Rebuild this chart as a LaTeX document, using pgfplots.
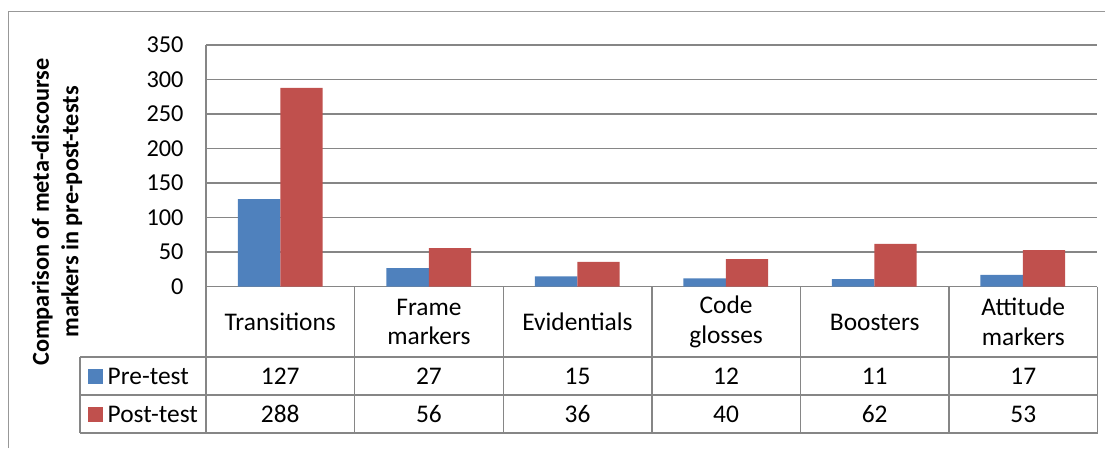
\documentclass[border=0pt]{standalone}
\usepackage{pgfplots}
\pgfplotsset{compat=1.18}
\usepackage{fontspec}
\setmainfont{Carlito}
\definecolor{preblue}{HTML}{4F81BD}
\definecolor{postred}{HTML}{C0504D}
\definecolor{gridgray}{HTML}{868686}
\newcommand{\fs}{\fontsize{24.3}{29.5}\selectfont}
\newcommand{\ft}{\fontsize{25.4}{29.5}\selectfont}
\begin{document}
\begin{tikzpicture}
\useasboundingbox (0pt,0pt) rectangle (1105pt,-448pt);
% outer chart border (left and top visible)
\draw[gridgray!85, line width=1.3pt] (8.5pt,-448pt) -- (8.5pt,-11.5pt) -- (1105pt,-11.5pt);
\begin{axis}[
  at={(206pt,-286.7pt)}, anchor=south west,
  scale only axis, width=891pt, height=241.7pt,
  xmin=-0.5, xmax=5.5, ymin=0, ymax=350,
  ytick={0,50,...,350},
  xtick=\empty,
  ymajorgrids,
  grid style={draw=gridgray, line width=1.4pt},
  axis line style={draw=gridgray, line width=1.4pt},
  axis x line*=bottom, axis y line*=left,
  major tick length=0pt,
  tick label style={font=\fs},
  /pgf/number format/assume math mode=true,
  yticklabel style={xshift=-19pt},
  ybar=0pt, bar width=0.285,
  clip=false,
]
\addplot[fill=preblue, draw=none] coordinates {(0,127) (1,27) (2,15) (3,12) (4,11) (5,17)};
\addplot[fill=postred, draw=none] coordinates {(0,288) (1,56) (2,36) (3,40) (4,62) (5,53)};
\end{axis}
\begin{scope}[x=1pt, y=1pt]
% data table lines
\begin{scope}[draw=gridgray, line width=1.4pt]
\draw (206,-286.7) -- (206,-433);
\draw (80,-357) -- (1097.6,-357);
\draw (80,-395) -- (1097.6,-395);
\draw (80,-433) -- (1097.6,-433);
\draw (80,-357) -- (80,-433);
\foreach \k in {1,...,5} {\draw ({206+148.6*\k},-286.7) -- ({206+148.6*\k},-433);}
\draw (1097.6,-286.7) -- (1097.6,-433);
\end{scope}
% category labels
\foreach \lab [count=\i from 0] in {Transitions,{Frame\\markers},Evidentials,{Code\\glosses},Boosters,{Attitude\\markers}} {
  \node[font=\ft, align=center, inner sep=0pt] at ({206+148.6*(\i+0.5)},-322) {\lab};
}
% table values
\foreach \v [count=\i from 0] in {127,27,15,12,11,17} {
  \node[font=\ft, inner sep=0pt] at ({206+148.6*(\i+0.5)},-376) {\v};
}
\foreach \v [count=\i from 0] in {288,56,36,40,62,53} {
  \node[font=\ft, inner sep=0pt] at ({206+148.6*(\i+0.5)},-414) {\v};
}
% legend keys
\fill[preblue] (88,-369) rectangle (102.5,-383.5);
\fill[postred] (88,-407) rectangle (102.5,-421.5);
\node[font=\ft, anchor=west, inner sep=0pt] at (107.5,-376) {Pre-test};
\node[font=\ft, anchor=west, inner sep=0pt] at (107.5,-414) {Post-test};
% y label
\node[font=\fs\bfseries, align=center, rotate=90, inner sep=0pt] at (57,-212) {Comparison of meta-discourse\\markers in pre-post-tests};
\end{scope}
\end{tikzpicture}
\end{document}
